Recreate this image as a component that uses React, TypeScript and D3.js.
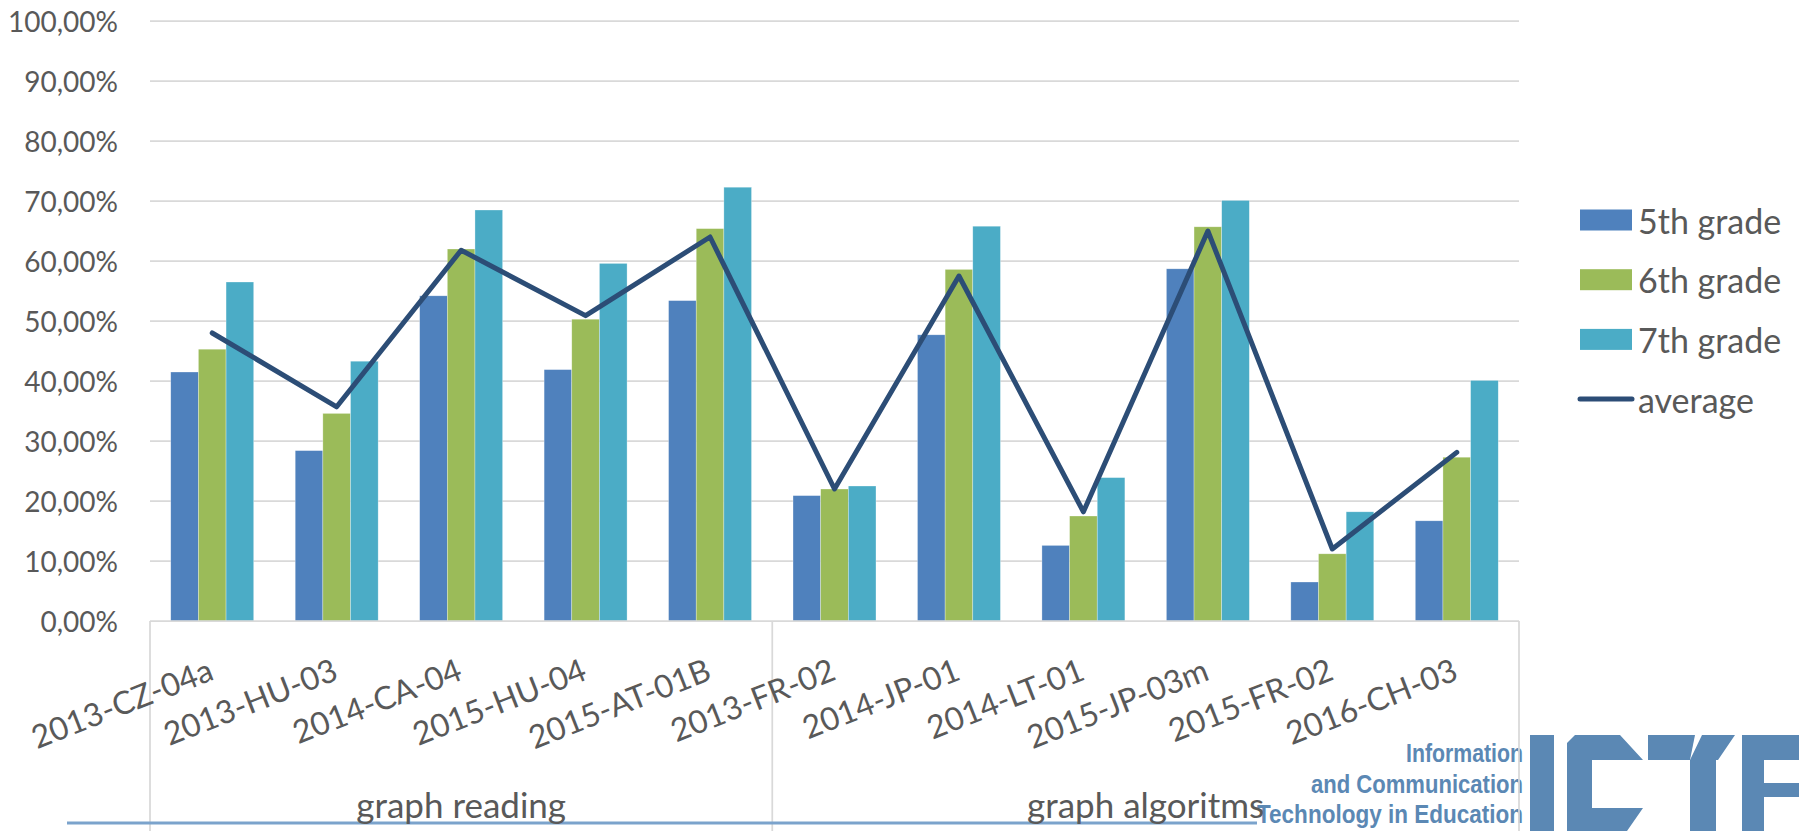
import React from "react";
import * as d3 from "d3";

const categories = [
  "2013-CZ-04a",
  "2013-HU-03",
  "2014-CA-04",
  "2015-HU-04",
  "2015-AT-01B",
  "2013-FR-02",
  "2014-JP-01",
  "2014-LT-01",
  "2015-JP-03m",
  "2015-FR-02",
  "2016-CH-03",
];
const groups = [
  { name: "graph reading", count: 5 },
  { name: "graph algoritms", count: 6 },
];
const seriesNames = ["5th grade", "6th grade", "7th grade"];
const grade5 = [41.5, 28.4, 54.2, 41.9, 53.4, 20.9, 47.7, 12.6, 58.7, 6.5, 16.7];
const grade6 = [45.3, 34.6, 62.0, 50.3, 65.4, 22.0, 58.6, 17.5, 65.7, 11.2, 27.3];
const grade7 = [56.5, 43.3, 68.5, 59.6, 72.3, 22.5, 65.8, 23.9, 70.1, 18.2, 40.1];
const average = [48.0, 35.7, 61.8, 50.9, 64.0, 22.0, 57.5, 18.2, 65.0, 12.0, 28.1];
const yTicks = [0, 10, 20, 30, 40, 50, 60, 70, 80, 90, 100];
const logoLines = ["Information", "and Communication", "Technology in Education"];

const colors = ["#4F81BD", "#9BBB59", "#4BACC6"];
const lineColor = "#2C4D76";
const textColor = "#595959";
const gridColor = "#D9D9D9";
const logoColor = "#5B88B4";
const font = "Lato, 'Open Sans', sans-serif";

const W = 1799;
const H = 831;
const plot = { left: 150, right: 1519, top: 21, bottom: 621 };

export default function App() {
  const x = d3.scaleBand().domain(categories).range([plot.left, plot.right]).padding(0);
  const bw = x.bandwidth();
  const gap = (bw * 0.75) / 4.5; // gap width 150%
  const xs = d3.scaleBand().domain(seriesNames).range([gap, bw - gap]).padding(0);
  const y = d3.scaleLinear().domain([0, 100]).range([plot.bottom, plot.top]);

  const series = [grade5, grade6, grade7];
  const line = d3
    .line<number>()
    .x((_, i) => (x(categories[i]) as number) + bw / 2)
    .y((d) => y(d));

  const fmt = (v: number) => `${v},00%`;

  // group boundaries
  let acc = 0;
  const groupSpans = groups.map((g) => {
    const x0 = x(categories[acc]) as number;
    acc += g.count;
    const x1 = acc < categories.length ? (x(categories[acc]) as number) : plot.right;
    return { ...g, x0, x1 };
  });

  const legendRows = [...seriesNames, "average"];
  const logoWidths = [117, 212, 266];

  return (
    <div style={{ position: "absolute", left: 0, top: 0 }}>
      <svg width={W} height={H} style={{ display: "block", background: "#fff" }}>
        {/* gridlines */}
        {yTicks.slice(1).map((t) => (
          <line key={t} x1={plot.left} x2={plot.right} y1={y(t)} y2={y(t)} stroke={gridColor} strokeWidth={1.75} />
        ))}
        {/* y labels */}
        {yTicks.map((t) => (
          <text
            key={"l" + t}
            x={118}
            y={y(t)}
            textAnchor="end"
            dominantBaseline="central"
            fontFamily={font}
            fontSize={28}
            fill={textColor}
          >
            {fmt(t)}
          </text>
        ))}

        {/* logo */}
        <g fill={logoColor} fontFamily="'Liberation Sans', Arial, sans-serif" fontWeight="bold" fontSize={25}>
          {logoLines.map((t, i) => (
            <text
              key={t}
              x={1523 - logoWidths[i]}
              y={762 + i * 30.5}
              textLength={logoWidths[i]}
              lengthAdjust="spacingAndGlyphs"
            >
              {t}
            </text>
          ))}
        </g>
        <g fill={logoColor}>
          {/* I */}
          <rect x={1530} y={735} width={24} height={96} />
          {/* C */}
          <path d="M1575,735 L1620,735 L1643,760 L1592,760 L1592,808 L1643,808 L1627,831 L1567,831 L1567,743 Z" />
          {/* T */}
          <path d="M1648,735 L1695,735 L1690,760 L1648,760 Z" />
          <path d="M1702,735 L1735,735 L1718,760 L1716,760 L1716,831 L1690,831 L1690,760 Z" />
          {/* E */}
          <path d="M1742,735 L1799,735 L1799,760 L1764,760 L1764,783 L1799,783 L1799,797 L1764,797 L1764,831 L1742,831 Z" />
        </g>

        {/* bars */}
        {categories.map((c, i) => (
          <g key={c} transform={`translate(${x(c)},0)`}>
            {series.map((s, j) => (
              <rect
                key={j}
                x={xs(seriesNames[j])}
                y={y(s[i])}
                width={xs.bandwidth()}
                height={y(0) - y(s[i])}
                fill={colors[j]}
                stroke="#ffffff"
                strokeOpacity={0.5}
                strokeWidth={0.6}
              />
            ))}
          </g>
        ))}

        {/* average line */}
        <path d={line(average) || ""} fill="none" stroke={lineColor} strokeWidth={5} strokeLinejoin="round" strokeLinecap="round" />

        {/* axis and group dividers */}
        <line x1={plot.left} x2={plot.right} y1={plot.bottom} y2={plot.bottom} stroke={gridColor} strokeWidth={1.75} />
        {[plot.left, ...groupSpans.map((g) => g.x1)].map((gx, i) => (
          <line key={"d" + i} x1={gx} x2={gx} y1={plot.bottom} y2={H} stroke={gridColor} strokeWidth={1.75} />
        ))}

        {/* category labels */}
        {categories.map((c) => (
          <text
            key={"c" + c}
            transform={`translate(${(x(c) as number) + bw / 2 + 3},679) rotate(-21.5)`}
            textAnchor="end"
            fontFamily={font}
            fontSize={32}
            fill={textColor}
          >
            {c}
          </text>
        ))}

        {/* bottom decorative line */}
        <line x1={67} x2={1257} y1={823} y2={823} stroke="#7BA3CC" strokeWidth={3} />

        {/* group labels */}
        {groupSpans.map((g) => (
          <text
            key={g.name}
            x={(g.x0 + g.x1) / 2}
            y={818}
            textAnchor="middle"
            fontFamily={font}
            fontSize={35}
            fill={textColor}
          >
            {g.name}
          </text>
        ))}

        {/* legend */}
        {legendRows.map((name, i) => {
          const ry = 220 + i * 59.7;
          return (
            <g key={name}>
              {i < 3 ? (
                <rect x={1580} y={ry - 10.5} width={52} height={21} fill={colors[i]} />
              ) : (
                <line x1={1580} x2={1632} y1={ry} y2={ry} stroke={lineColor} strokeWidth={5} strokeLinecap="round" />
              )}
              <text x={1638} y={ry} dominantBaseline="central" fontFamily={font} fontSize={34} fill={textColor}>
                {name}
              </text>
            </g>
          );
        })}
      </svg>
    </div>
  );
}
